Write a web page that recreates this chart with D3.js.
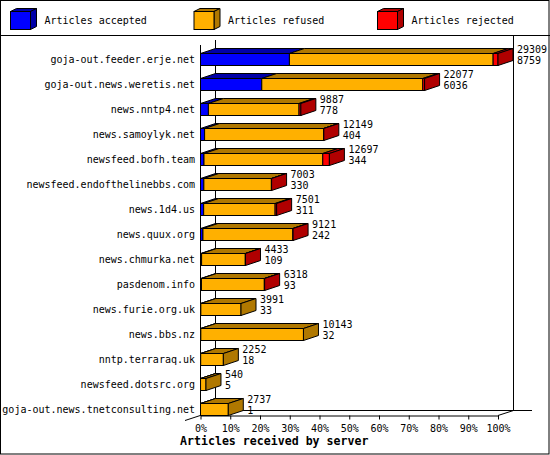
<!DOCTYPE html>
<html><head><meta charset="utf-8">
<script src="https://cdn.jsdelivr.net/npm/d3@7"></script>
<style>
html,body{margin:0;padding:0;background:#fff;}
svg text{font-family:"DejaVu Sans Mono",monospace;}
</style></head>
<body><svg id="c" width="550" height="455"></svg>
<script>
const categories = ["goja-out.feeder.erje.net","goja-out.news.weretis.net","news.nntp4.net","news.samoylyk.net","newsfeed.bofh.team","newsfeed.endofthelinebbs.com","news.1d4.us","news.quux.org","news.chmurka.net","pasdenom.info","news.furie.org.uk","news.bbs.nz","nntp.terraraq.uk","newsfeed.dotsrc.org","goja-out.news.tnetconsulting.net"];
const totals   = [29309,22077,9887,12149,12697,7003,7501,9121,4433,6318,3991,10143,2252,540,2737];
const accepted = [8759,6036,778,404,344,330,311,242,109,93,33,32,18,5,1];
const refused  = [20070,15861,8929,11715,11703,6653,7040,8859,4304,6195,3958,10111,2234,535,2736];
const rejected = [480,180,180,30,650,20,150,20,20,30,0,0,0,0,0];
const seriesNames = ["Articles accepted","Articles refused","Articles rejected"];
const seriesFront = ["#0000ff","#ffb000","#ff0000"];
const seriesShade = ["#0000a8","#b07800","#b00000"];
const percentTicks = [0,10,20,30,40,50,60,70,80,90,100];
const axisTitle = "Articles received by server";

const svg = d3.select("#c");
const DX = 15, DY = -5, BH = 12;
const x = d3.scaleLinear().domain([0, d3.max(totals)]).range([200.5, 498]);
const xp = d3.scaleLinear().domain([0, 100]).range([200.5, 498]);
const y = d3.scaleBand().domain(categories).range([40, 415]).paddingInner(0).paddingOuter(0);

// frame
svg.append("rect").attr("x",0.5).attr("y",0.5).attr("width",548.5).attr("height",453.5)
  .attr("fill","#fff").attr("stroke","#000");
svg.append("line").attr("x1",0).attr("x2",550).attr("y1",35.5).attr("y2",35.5).attr("stroke","#000");

// legend
const legX = [10, 193.5, 377];
seriesNames.forEach((n,i)=>{
  const g = svg.append("g").attr("transform",`translate(${legX[i]},0)`);
  const fx0=0.5, fx1=20.5, fy0=11.5, fy1=29.5, dx=6, dy=-3;
  g.append("path").attr("d",`M${fx0},${fy0}L${fx0+dx},${fy0+dy}L${fx1+dx},${fy0+dy}L${fx1},${fy0}Z`)
    .attr("fill",seriesShade[i]).attr("stroke","#000");
  g.append("path").attr("d",`M${fx1},${fy0}L${fx1+dx},${fy0+dy}L${fx1+dx},${fy1+dy}L${fx1},${fy1}Z`)
    .attr("fill",seriesShade[i]).attr("stroke","#000");
  g.append("rect").attr("x",fx0).attr("y",fy0).attr("width",fx1-fx0).attr("height",fy1-fy0)
    .attr("fill",seriesFront[i]).attr("stroke","#000");
  g.append("text").attr("x",34.5).attr("y",24).attr("font-size","10px").text(n);
});

// axes frame lines
const ax = svg.append("g").attr("stroke","#000").attr("fill","none");
ax.append("line").attr("x1",200.5).attr("x2",200.5).attr("y1",45).attr("y2",415.5);
ax.append("line").attr("x1",215.5).attr("x2",215.5).attr("y1",40).attr("y2",410.5);
ax.append("line").attr("x1",513.5).attr("x2",513.5).attr("y1",35.5).attr("y2",410.5);
ax.append("line").attr("x1",215.5).attr("x2",532).attr("y1",410.5).attr("y2",410.5);
ax.append("line").attr("x1",185).attr("x2",215.5).attr("y1",420.5).attr("y2",410.5);
ax.append("line").attr("x1",498).attr("x2",513.5).attr("y1",415.5).attr("y2",410.5);

// bars
const segs = [accepted, refused, rejected];
categories.forEach((c,i)=>{
  const yt = y(c) + 13.5;
  const g = svg.append("g");
  let cum = 0, last = 0;
  segs.forEach((arr,s)=>{
    const v = arr[i];
    if (v <= 0) return;
    const x0 = x(cum), x1 = x(cum+v);
    cum += v; last = s;
    g.append("path").attr("d",`M${x0},${yt}L${x0+DX},${yt+DY}L${x1+DX},${yt+DY}L${x1},${yt}Z`)
      .attr("fill",seriesShade[s]).attr("stroke","#000");
    g.append("rect").attr("x",x0).attr("y",yt).attr("width",Math.max(0,x1-x0)).attr("height",BH)
      .attr("fill",seriesFront[s]).attr("stroke","#000");
  });
  const xe = x(cum);
  g.append("path").attr("d",`M${xe},${yt}L${xe+DX},${yt+DY}L${xe+DX},${yt+BH+DY}L${xe},${yt+BH}Z`)
    .attr("fill",seriesShade[last]).attr("stroke","#000");
  const lx = x(totals[i]) + DX + 4;
  g.append("text").attr("x",lx).attr("y",yt-0.5).attr("font-size","10px").text(totals[i]);
  g.append("text").attr("x",lx).attr("y",yt+10.5).attr("font-size","10px").text(accepted[i]);
  svg.append("text").attr("x",195).attr("y",yt+BH/2+3.5).attr("text-anchor","end")
    .attr("font-size","10px").text(c);
});

// percent axis
const axis = d3.axisBottom(xp).tickValues(percentTicks).tickFormat(d=>d+"%").tickSize(4).tickSizeOuter(0).tickPadding(5);
const ag = svg.append("g").attr("transform","translate(0,415.5)").call(axis);
ag.selectAll("text").attr("font-size","10px").attr("font-family","DejaVu Sans Mono").attr("fill","#000");
ag.selectAll("line,path").attr("stroke","#000");

svg.append("text").attr("x",180).attr("y",445).attr("font-size","11.6px").attr("font-weight","bold")
  .text(axisTitle);
</script></body></html>
